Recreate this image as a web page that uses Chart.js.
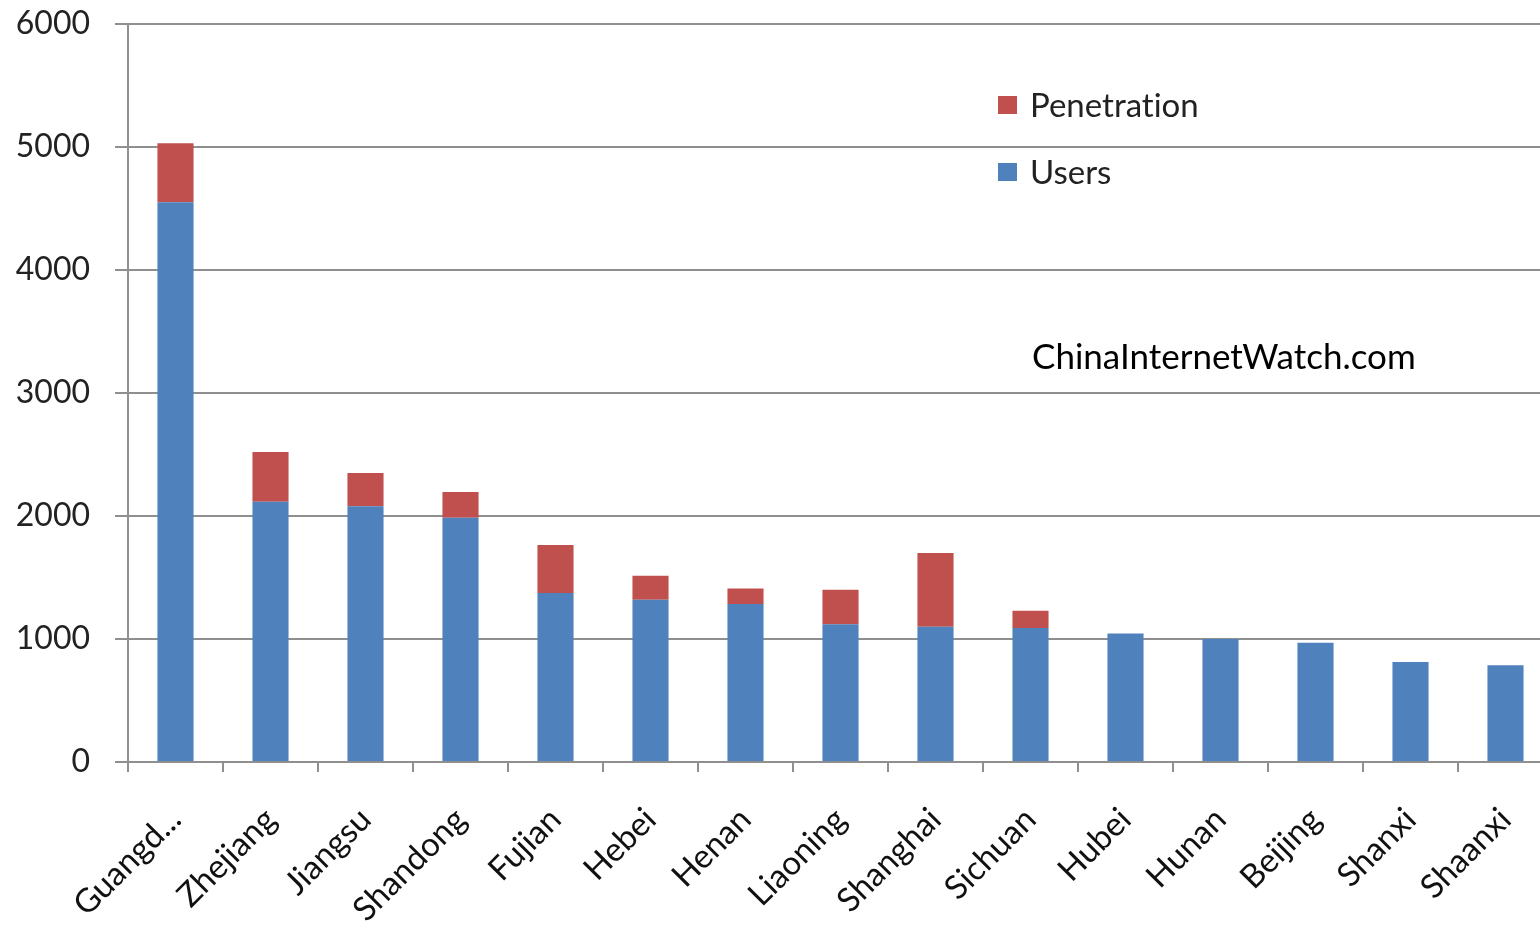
<!DOCTYPE html>
<html>
<head>
<meta charset="utf-8">
<title>Internet users by province</title>
<script src="https://cdn.jsdelivr.net/npm/chart.js@4/dist/chart.umd.min.js"></script>
<style>
  html, body { margin: 0; padding: 0; background: #fff; overflow: hidden; }
  #wrap { position: absolute; left: 0; top: 0; width: 1556px; height: 934px; }
</style>
</head>
<body>
<div id="wrap"><canvas id="c"></canvas></div>
<script>
// Provinces, in descending order of total
const provinces = ['Guangd...', 'Zhejiang', 'Jiangsu', 'Shandong', 'Fujian', 'Hebei', 'Henan',
  'Liaoning', 'Shanghai', 'Sichuan', 'Hubei', 'Hunan', 'Beijing', 'Shanxi', 'Shaanxi'];

// Internet users (10k)
const users = [4550, 2115, 2080, 1985, 1375, 1320, 1285, 1120, 1100, 1090, 1045, 1000, 970, 813, 786];

// Penetration, stacked on top of users
const penetration = [480, 405, 270, 210, 390, 195, 125, 280, 600, 140, null, null, null, null, null];

// Value axis
const yMin = 0;
const yMax = 6000;
const yStep = 1000;

const seriesNames = ['Users', 'Penetration'];
const seriesColors = ['#4F81BD', '#C0504D'];
const watermark = 'ChinaInternetWatch.com';

const FONT = 'Lato, "Open Sans", sans-serif';
const GRID = '#8f8f8f';

// Legend drawn inside the plot, last series first
const insideLegend = {
  id: 'insideLegend',
  afterDraw(chart) {
    const ctx = chart.ctx;
    const sets = chart.data.datasets.slice().reverse();
    ctx.save();
    ctx.font = '33px ' + FONT;
    if ('textRendering' in ctx) ctx.textRendering = 'optimizeSpeed';
    ctx.textBaseline = 'middle';
    ctx.textAlign = 'left';
    sets.forEach((ds, i) => {
      const cy = 105 + i * 67;
      ctx.fillStyle = ds.backgroundColor;
      ctx.fillRect(998, cy - 9, 19, 18);
      ctx.fillStyle = '#222';
      ctx.fillText(ds.label, 1030, cy + 1);
    });
    ctx.restore();
  }
};

// Site name written over the plot
const siteMark = {
  id: 'siteMark',
  afterDraw(chart) {
    const ctx = chart.ctx;
    ctx.save();
    ctx.font = '35px ' + FONT;
    ctx.fillStyle = '#000';
    ctx.textBaseline = 'alphabetic';
    ctx.textAlign = 'left';
    ctx.fillText(watermark, 1032, 369);
    ctx.restore();
  }
};

new Chart(document.getElementById('c'), {
  type: 'bar',
  data: {
    labels: provinces,
    datasets: [
      { label: seriesNames[0], data: users, backgroundColor: seriesColors[0], borderWidth: 0 },
      { label: seriesNames[1], data: penetration, backgroundColor: seriesColors[1], borderWidth: 0 }
    ]
  },
  options: {
    responsive: true,
    maintainAspectRatio: false,
    animation: false,
    layout: { padding: { left: 0, right: 3, top: 24, bottom: 0 } },
    plugins: {
      legend: { display: false },
      tooltip: { enabled: false }
    },
    datasets: { bar: { barPercentage: 0.38, categoryPercentage: 1.0 } },
    scales: {
      x: {
        stacked: true,
        offset: true,
        grid: {
          offset: true,
          drawOnChartArea: false,
          drawTicks: true,
          tickLength: 10,
          color: GRID,
          lineWidth: 2
        },
        border: { display: true, color: GRID, width: 2 },
        ticks: {
          autoSkip: false,
          minRotation: 45,
          maxRotation: 45,
          padding: 28,
          labelOffset: 0,
          color: '#111',
          font: { family: FONT, size: 33 }
        },
        afterFit(scale) {
          scale.height = 172;
          scale.paddingLeft = 0;
          scale.paddingRight = 0;
        }
      },
      y: {
        stacked: true,
        min: yMin,
        max: yMax,
        ticks: {
          stepSize: yStep,
          padding: 25,
          color: '#222',
          font: { family: FONT, size: 32 },
          callback: v => String(v)
        },
        grid: {
          color: GRID,
          lineWidth: 2,
          drawTicks: true,
          tickLength: 13
        },
        border: { display: true, color: GRID, width: 2 },
        afterFit(scale) {
          scale.width = 128;
          scale.paddingTop = 0;
          scale.paddingBottom = 0;
        }
      }
    }
  },
  plugins: [insideLegend, siteMark]
});
</script>
</body>
</html>
